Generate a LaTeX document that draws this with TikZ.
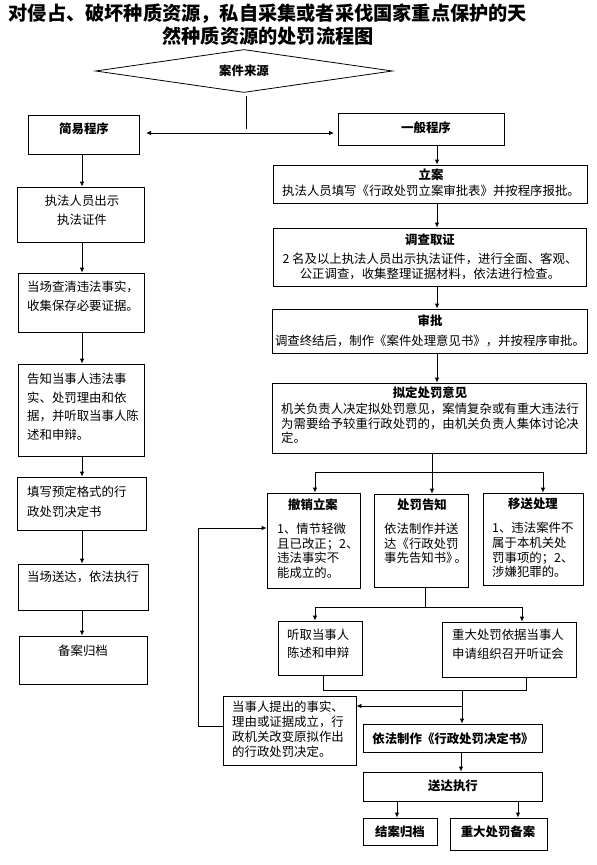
\documentclass[tikz,border=0pt]{standalone}
\usepackage{fontspec}
\setmainfont{Noto Sans CJK SC}
\usetikzlibrary{arrows.meta,shapes.geometric,fit}
\tikzset{
 ln/.style={line width=0.8pt},
 arr/.style={line width=0.8pt,-{Latex[length=5pt,width=4.5pt]}},
 bx/.style={draw,line width=0.8pt,inner sep=0pt},
 tx/.style={inner sep=0pt,align=left,font=\fontsize{12.4}{14.6}\selectfont},
 txw/.style={inner sep=0pt,align=left,font=\fontsize{12.4}{18.8}\selectfont},
 hd/.style={inner sep=0pt,font=\fontsize{12.4}{14.6}\selectfont\bfseries},
 ttl/.style={inner sep=0pt,font=\fontsize{19.2}{23}\selectfont\bfseries},
}
\begin{document}
\begin{tikzpicture}[x=1pt,y=-1pt]
\useasboundingbox (0,0) rectangle (597,865);
% title
\node[ttl] (T1) at (268,14) {对侵占、破坏种质资源，私自采集或者采伐国家重点保护的天};
\node[ttl] (T2) at (268,36) {然种质资源的处罚流程图};
% source diamond
\node[draw,diamond,line width=0.8pt,minimum width=297pt,minimum height=43pt,inner sep=0pt,shape aspect=7,font=\fontsize{12.4}{14.6}\selectfont\bfseries] (src) at (244,71) {案件来源};
\coordinate (dv1) at (246,96);
\coordinate (dv2) at (246,129);
\draw[ln] (dv1) -- (dv2);
\coordinate (hl) at (146,133);
\coordinate (hr) at (334,133);
\draw[ln,{Latex[length=5pt,width=4.5pt]}-{Latex[length=5pt,width=4.5pt]}] (hl) -- (hr);
% boxes
\node[bx,fit={(28,115) (139,154)}] (jy) {};
\node[bx,fit={(338,113) (504,145)}] (yb) {};
\node[bx,fit={(273,165) (587,203)}] (la) {};
\node[bx,fit={(273,228) (586,286)}] (dc) {};
\node[bx,fit={(272,309) (587,353)}] (sp) {};
\node[bx,fit={(272,383) (586,453)}] (nd) {};
\node[bx,fit={(267,493) (360,588)}] (cx) {};
\node[bx,fit={(374,494) (468,587)}] (gz) {};
\node[bx,fit={(483,493) (583,585)}] (ys) {};
\node[bx,fit={(278,621) (362,675)}] (tq) {};
\node[bx,fit={(442,622) (576,677)}] (zd) {};
\node[bx,fit={(223,696) (356,765)}] (dsr) {};
\node[bx,fit={(363,724) (542,752)}] (zz) {};
\node[bx,fit={(363,772) (542,801)}] (sd) {};
\node[bx,fit={(363,818) (437,845)}] (ja) {};
\node[bx,fit={(450,818) (547,850)}] (zb) {};
\node[bx,fit={(17,187) (144,242)}] (L1) {};
\node[bx,fit={(18,273) (144,332)}] (L2) {};
\node[bx,fit={(18,364) (144,456)}] (L3) {};
\node[bx,fit={(17,477) (146,530)}] (L4) {};
\node[bx,fit={(18,564) (148,610)}] (L5) {};
\node[bx,fit={(19,636) (147,684)}] (L6) {};
% texts left
\node[hd] (tjy) at (84,129) {简易程序};
\node[txw,align=center,anchor=north] (tL1) at (82,195.2) {执法人员出示\\执法证件};
\node[txw,anchor=north west] (tL2) at (27,281.2) {当场查清违法事实，\\收集保存必要证据。};
\node[tx,font=\fontsize{12.4}{18.4}\selectfont,anchor=north west] (tL3) at (27,373.2) {告知当事人违法事\\实、处罚理由和依\\据，并听取当事人陈\\述和申辩。};
\node[tx,font=\fontsize{12.4}{20}\selectfont,anchor=north west] (tL4) at (27,486.2) {填写预定格式的行\\政处罚决定书};
\node[tx,anchor=west] (tL5) at (27,577) {当场送达，依法执行};
\node[tx] (tL6) at (83,651) {备案归档};
% texts right
\node[hd] (tyb) at (426,128) {一般程序};
\node[hd] (hla) at (431,175) {立案};
\node[tx] (tla) at (431,191) {执法人员填写《行政处罚立案审批表》并按程序报批。};
\node[hd] (hdc) at (430,240) {调查取证};
\node[tx,font=\fontsize{12.4}{15}\selectfont,align=center,anchor=north] (tdc) at (430,253.2) {2 名及以上执法人员出示执法证件，进行全面、客观、\\公正调查，收集整理证据材料，依法进行检查。};
\node[hd] (hsp) at (430,321) {审批};
\node[tx] (tsp) at (430,341) {调查终结后，制作《案件处理意见书》，并按程序审批。};
\node[hd] (hnd) at (430,393) {拟定处罚意见};
\node[tx,font=\fontsize{12.4}{14.5}\selectfont,anchor=north west] (tnd) at (281,403.2) {机关负责人决定拟处罚意见，案情复杂或有重大违法行\\为需要给予较重行政处罚的，由机关负责人集体讨论决\\定。};
\node[hd] (hcx) at (313,505) {撤销立案};
\node[tx,font=\fontsize{12.4}{14.4}\selectfont,anchor=north west] (tcx) at (277,523.2) {1、情节轻微\\且已改正；2、\\违法事实不\\能成立的。};
\node[hd] (hgz) at (422,505) {处罚告知};
\node[tx,font=\fontsize{12.4}{14.5}\selectfont,anchor=north west] (tgz) at (384,523.2) {依法制作并送\\达《行政处罚\\事先告知书》\kern-4pt。};
\node[hd] (hys) at (533,504) {移送处理};
\node[tx,font=\fontsize{12.4}{14.6}\selectfont,anchor=north west] (tys) at (492,522.2) {1、违法案件不\\属于本机关处\\罚事项的；2、\\涉嫌犯罪的。};
\node[tx,font=\fontsize{12.4}{18}\selectfont,anchor=north west] (ttq) at (287,629.2) {听取当事人\\陈述和申辩};
\node[tx,font=\fontsize{12.4}{19}\selectfont,anchor=north west] (tzd) at (452,629.2) {重大处罚依据当事人\\申请组织召开听证会};
\node[tx,font=\fontsize{12.4}{15}\selectfont,anchor=north west] (tdsr) at (232,701.2) {当事人提出的事实、\\理由或证据成立，行\\政机关改变原拟作出\\的行政处罚决定。};
\node[hd] (hzz) at (453,739) {依法制作《行政处罚决定书》};
\node[hd] (hsd) at (453,786) {送达执行};
\node[hd] (hja) at (400,832) {结案归档};
\node[hd] (hzb) at (498,832) {重大处罚备案};
% left column arrows
\coordinate (cL) at (82,0);
\draw[arr] (jy.south -| cL) -- (L1.north -| cL);
\draw[arr] (L1.south -| cL) -- (L2.north -| cL);
\draw[arr] (L2.south -| cL) -- (L3.north -| cL);
\draw[arr] (L3.south -| cL) -- (L4.north -| cL);
\draw[arr] (L4.south -| cL) -- (L5.north -| cL);
\draw[arr] (L5.south -| cL) -- (L6.north -| cL);
% right column arrows
\coordinate (cR) at (437,0);
\draw[arr] (yb.south -| cR) -- (la.north -| cR);
\draw[arr] (la.south -| cR) -- (dc.north -| cR);
\draw[arr] (dc.south -| cR) -- (sp.north -| cR);
\draw[arr] (sp.south -| cR) -- (nd.north -| cR);
\coordinate (cM) at (432,0);
\draw[arr] (nd.south -| cM) -- (gz.north -| cM);
\coordinate (s1) at (315,472);
\coordinate (s2) at (543,472);
\draw[ln] (s1) -- (s2);
\draw[arr] (s1) -- (s1 |- cx.north);
\draw[arr] (s2) -- (s2 |- ys.north);
\coordinate (cG) at (425,607);
\draw[ln] (gz.south -| cG) -- (cG);
\coordinate (g2) at (315,607);
\coordinate (g3) at (522,607);
\draw[ln] (g2) -- (g3);
\draw[arr] (g2) -- (g2 |- tq.north);
\draw[arr] (g3) -- (g3 |- zd.north);
\coordinate (m1) at (323,690);
\coordinate (m2) at (526,690);
\draw[ln] (tq.south -| m1) -- (m1) -- (m2) -- (zd.south -| m2);
\coordinate (m3) at (462,690);
\coordinate (m4) at (462,706);
\draw[arr] (m3) -- (zz.north -| m3);
\draw[arr] (m4) -- (dsr.east |- m4);
\coordinate (lp) at (198,726);
\coordinate (lq) at (198,528);
\draw[arr] (dsr.west |- lp) -- (lp) -- (lq) -- (cx.west |- lq);
\coordinate (cS) at (461,0);
\draw[arr] (zz.south -| cS) -- (sd.north -| cS);
\coordinate (b1) at (397,0);
\coordinate (b2) at (518,0);
\draw[arr] (sd.south -| b1) -- (ja.north -| b1);
\draw[arr] (sd.south -| b2) -- (zb.north -| b2);
\end{tikzpicture}
\end{document}
